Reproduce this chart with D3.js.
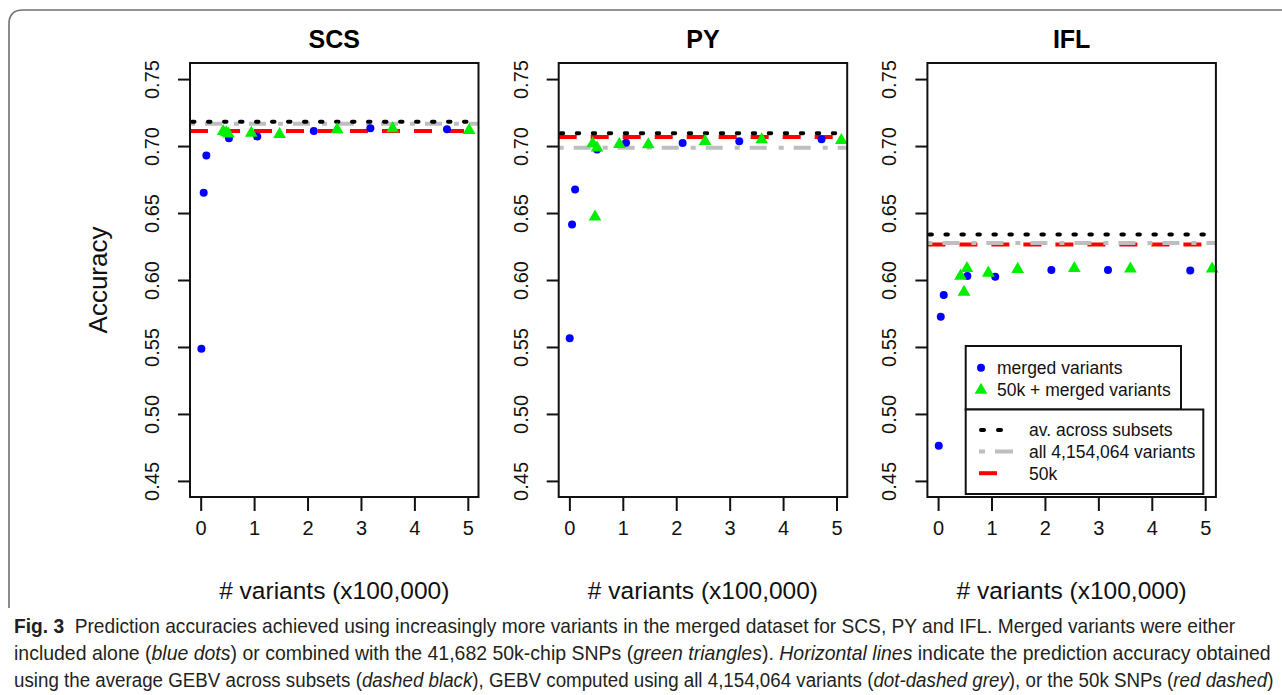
<!DOCTYPE html>
<html>
<head>
<meta charset="utf-8">
<script src="https://cdn.jsdelivr.net/npm/d3@7"></script>
<style>
  body { margin: 0; background: #fff; }
  svg { display: block; }
</style>
</head>
<body>
<svg id="fig" width="1282" height="695"></svg>
<script>
const TRAITS = ['SCS', 'PY', 'IFL'];
const X_TICKS = [0, 1, 2, 3, 4, 5];
const Y_TICKS = [0.45, 0.50, 0.55, 0.60, 0.65, 0.70, 0.75];

// [variants x100,000, accuracy]
const SCS_MERGED = [[0.013, 0.5486], [0.056, 0.6652], [0.106, 0.693], [0.529, 0.7058], [1.059, 0.7072], [2.117, 0.7112], [3.176, 0.7132], [4.61, 0.7125]];
const SCS_COMBINED = [[0.42, 0.7118], [0.48, 0.7108], [0.52, 0.7098], [0.947, 0.7105], [1.476, 0.7095], [2.554, 0.713], [3.593, 0.7138], [5.025, 0.7125]];
const PY_MERGED = [[0.006, 0.5565], [0.05, 0.6415], [0.107, 0.6676], [0.518, 0.6975], [1.06, 0.7025], [2.12, 0.7022], [3.18, 0.7035], [4.72, 0.705]];
const PY_COMBINED = [[0.436, 0.7025], [0.48, 0.6479], [0.518, 0.6995], [0.935, 0.702], [1.477, 0.7018], [2.54, 0.7043], [3.6, 0.7055], [5.09, 0.705]];
const IFL_MERGED = [[0.013, 0.4763], [0.05, 0.5725], [0.106, 0.5888], [0.548, 0.603], [1.07, 0.6025], [2.12, 0.6075], [3.18, 0.6075], [4.72, 0.607]];
const IFL_COMBINED = [[0.42, 0.6037], [0.485, 0.5918], [0.54, 0.6095], [0.94, 0.606], [1.49, 0.6088], [2.55, 0.6095], [3.6, 0.609], [5.13, 0.609]];

// horizontal reference lines: av. across subsets, all variants, 50k
const SCS_HLINES = [0.7182, 0.7167, 0.7112];
const PY_HLINES = [0.7095, 0.6988, 0.7067];
const IFL_HLINES = [0.634, 0.6277, 0.6265];

const POINT_LEGEND = ['merged variants', '50k + merged variants'];
const LINE_LEGEND = ['av. across subsets', 'all 4,154,064 variants', '50k'];

const CAPTION = [
  [['Fig. 3', 'b'], ['  Prediction accuracies achieved using increasingly more variants in the merged dataset for SCS, PY and IFL. Merged variants were either', 'n']],
  [['included alone (', 'n'], ['blue dots', 'i'], [') or combined with the 41,682 50k-chip SNPs (', 'n'], ['green triangles', 'i'], ['). ', 'n'], ['Horizontal lines', 'i'], [' indicate the prediction accuracy obtained', 'n']],
  [['using the average GEBV across subsets (', 'n'], ['dashed black', 'i'], ['), GEBV computed using all 4,154,064 variants (', 'n'], ['dot-dashed grey', 'i'], ['), or the 50k SNPs (', 'n'], ['red dashed', 'i'], [')', 'n']],
];

const panels = [
  { name: 'SCS', merged: SCS_MERGED, combined: SCS_COMBINED, hlines: SCS_HLINES },
  { name: 'PY', merged: PY_MERGED, combined: PY_COMBINED, hlines: PY_HLINES },
  { name: 'IFL', merged: IFL_MERGED, combined: IFL_COMBINED, hlines: IFL_HLINES },
];

const FONT = '"Liberation Sans", Arial, Helvetica, sans-serif';
const BLUE = '#0000ff';
const GREEN = '#00ee00';

// style of the three reference lines, drawn red first, then grey, then black
const LINE_STYLE = [
  { idx: 2, color: '#ff0000', dash: '18,14', width: 4, cap: 'butt' },
  { idx: 1, color: '#bebebe', dash: '5,10,17,12', width: 4, cap: 'butt' },
  { idx: 0, color: '#000000', dash: '2.5,13.5', width: 4, cap: 'round' },
];

const PANEL_W = 288.5;
const PANEL_STEP = 368.7;
const TOP = 63;
const BOTTOM = 497;

const svg = d3.select('#fig');
svg.append('rect').attr('width', 1282).attr('height', 695).attr('fill', '#fff');

// outer figure frame
svg.append('path')
  .attr('d', 'M9,608 L9,24 Q9,10 23,10 L1290,10')
  .attr('fill', 'none')
  .attr('stroke', '#707070')
  .attr('stroke-width', 1.6);

const y = d3.scaleLinear().domain([0.438, 0.762]).range([BOTTOM, TOP]);

panels.forEach((p, i) => {
  const left = 190 + i * PANEL_STEP;
  const x = d3.scaleLinear().domain([-0.2, 5.2]).range([left, left + PANEL_W]);
  const g = svg.append('g');

  const clipId = `clip-${p.name}`;
  svg.append('clipPath').attr('id', clipId)
    .append('rect')
    .attr('x', left).attr('y', TOP)
    .attr('width', PANEL_W).attr('height', BOTTOM - TOP);

  // reference lines
  const lines = g.append('g').attr('clip-path', `url(#${clipId})`);
  LINE_STYLE.forEach(s => {
    lines.append('line')
      .attr('x1', left + (s.cap === 'round' ? 2 : 0)).attr('x2', left + PANEL_W)
      .attr('y1', y(p.hlines[s.idx])).attr('y2', y(p.hlines[s.idx]))
      .attr('stroke', s.color)
      .attr('stroke-width', s.width)
      .attr('stroke-linecap', s.cap)
      .attr('stroke-dasharray', s.dash);
  });

  // points
  g.selectAll('circle.merged').data(p.merged).join('circle')
    .attr('class', 'merged')
    .attr('cx', d => x(d[0]))
    .attr('cy', d => y(d[1]))
    .attr('r', 4)
    .attr('fill', BLUE);

  g.selectAll('path.combined').data(p.combined).join('path')
    .attr('class', 'combined')
    .attr('d', d3.symbol(d3.symbolTriangle).size(70))
    .attr('transform', d => `translate(${x(d[0])},${y(d[1]) + 1})`)
    .attr('fill', GREEN);

  // axes
  g.append('g')
    .attr('transform', `translate(0,${BOTTOM})`)
    .call(d3.axisBottom(x).tickValues(X_TICKS).tickSize(14).tickPadding(10).tickFormat(d3.format('d')))
    .call(a => a.select('.domain').remove())
    .call(a => a.selectAll('line').attr('stroke', '#111').attr('stroke-width', 2))
    .call(a => a.selectAll('text')
      .attr('font-family', FONT).attr('font-size', 20).attr('fill', '#111'));

  const yAxis = g.append('g')
    .attr('transform', `translate(${left},0)`)
    .call(d3.axisLeft(y).tickValues(Y_TICKS).tickSize(12).tickFormat(d3.format('.2f')))
    .call(a => a.select('.domain').remove())
    .call(a => a.selectAll('line').attr('stroke', '#111').attr('stroke-width', 2));
  yAxis.selectAll('text')
    .attr('x', null).attr('dy', null)
    .attr('transform', 'translate(-31,0) rotate(-90)')
    .attr('text-anchor', 'middle')
    .attr('font-family', FONT).attr('font-size', 20).attr('fill', '#111');

  // plot box
  g.append('rect')
    .attr('x', left).attr('y', TOP)
    .attr('width', PANEL_W).attr('height', BOTTOM - TOP)
    .attr('fill', 'none')
    .attr('stroke', '#111')
    .attr('stroke-width', 2);

  // title
  g.append('text')
    .attr('x', left + PANEL_W / 2).attr('y', 48)
    .attr('text-anchor', 'middle')
    .attr('font-family', FONT).attr('font-size', 25).attr('font-weight', 700)
    .attr('fill', '#000')
    .text(p.name);

  // x label
  g.append('text')
    .attr('x', left + PANEL_W / 2).attr('y', 599)
    .attr('text-anchor', 'middle')
    .attr('font-family', FONT).attr('font-size', 24.5)
    .attr('fill', '#111')
    .text('# variants (x100,000)');

  if (i === 0) {
    g.append('text')
      .attr('transform', `translate(107,${(TOP + BOTTOM) / 2}) rotate(-90)`)
      .attr('text-anchor', 'middle')
      .attr('font-family', FONT).attr('font-size', 26)
      .attr('fill', '#111')
      .text('Accuracy');
  }

  if (i === 2) {
    // legends sit in the lower part of the IFL panel
    const lg = svg.append('g');
    lg.append('rect')
      .attr('x', 965.7).attr('y', 346).attr('width', 215.3).attr('height', 63.5)
      .attr('fill', '#fff').attr('stroke', '#111').attr('stroke-width', 2);
    lg.append('rect')
      .attr('x', 965.7).attr('y', 409.5).attr('width', 237.6).attr('height', 84.5)
      .attr('fill', '#fff').attr('stroke', '#111').attr('stroke-width', 2);

    lg.append('circle').attr('cx', 981).attr('cy', 367.7).attr('r', 4).attr('fill', BLUE);
    lg.append('path')
      .attr('d', d3.symbol(d3.symbolTriangle).size(70))
      .attr('transform', 'translate(981,390)')
      .attr('fill', GREEN);
    POINT_LEGEND.forEach((t, k) => {
      lg.append('text')
        .attr('x', 997).attr('y', 374 + k * 21.5)
        .attr('font-family', FONT).attr('font-size', 17.5).attr('fill', '#111')
        .text(t);
    });

    const segEnd = [1003, 1014, 999];
    const styleByIdx = {};
    LINE_STYLE.forEach(s => { styleByIdx[s.idx] = s; });
    LINE_LEGEND.forEach((t, k) => {
      const s = styleByIdx[k];
      const yy = 430 + k * 21.6;
      lg.append('line')
        .attr('x1', k === 0 ? 981 : 979).attr('x2', segEnd[k])
        .attr('y1', yy).attr('y2', yy)
        .attr('stroke', s.color).attr('stroke-width', s.width)
        .attr('stroke-linecap', s.cap)
        .attr('stroke-dasharray', k === 1 ? '6,10,18,12' : (k === 0 ? '3,14' : s.dash));
      lg.append('text')
        .attr('x', 1029).attr('y', yy + 6.3)
        .attr('font-family', FONT).attr('font-size', 17.5).attr('fill', '#111')
        .text(t);
    });
  }
});

// caption, each line stretched to its width in the figure
const CAPTION_Y = [633, 660, 687];
const CAPTION_RIGHT = [1236, 1271, 1274];
CAPTION.forEach((parts, k) => {
  const t = svg.append('text')
    .attr('font-family', '"Liberation Sans Narrow", "Liberation Sans", Arial, sans-serif')
    .attr('font-size', 20)
    .attr('fill', '#231f20')
    .attr('xml:space', 'preserve');
  parts.forEach(([str, style]) => {
    t.append('tspan')
      .attr('font-weight', style === 'b' ? 700 : 400)
      .attr('font-style', style === 'i' ? 'italic' : 'normal')
      .text(str);
  });
  const w = t.node().getComputedTextLength();
  const sx = (CAPTION_RIGHT[k] - 14) / w;
  t.attr('transform', `translate(14,${CAPTION_Y[k]}) scale(${sx},1)`);
});
</script>
</body>
</html>
